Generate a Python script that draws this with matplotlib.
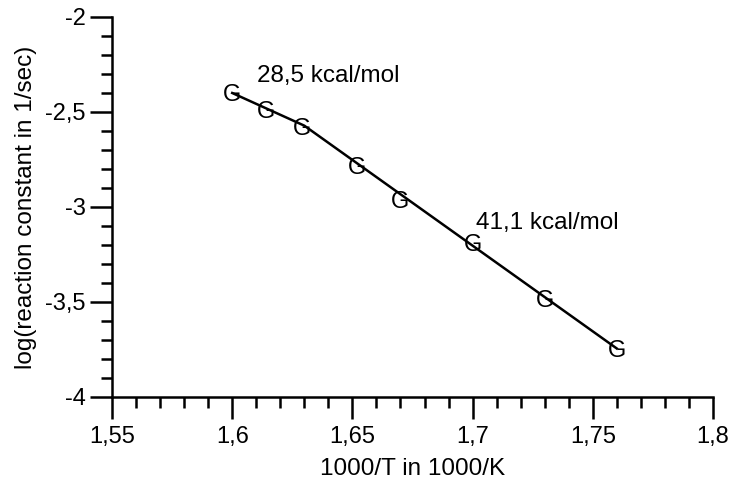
import matplotlib.pyplot as plt
from matplotlib.ticker import MultipleLocator

plt.rcParams['font.family'] = ['Liberation Sans', 'DejaVu Sans']

# measured points (1000/T, log k)
inv_T = [1.600, 1.614, 1.629, 1.652, 1.670, 1.700, 1.730, 1.760]
log_k = [-2.40, -2.49, -2.575, -2.78, -2.96, -3.19, -3.485, -3.745]

# fitted Arrhenius segments
fit_x = [1.600, 1.630, 1.760]
fit_y = [-2.40, -2.572, -3.745]

x_ticks = [1.55, 1.60, 1.65, 1.70, 1.75, 1.80]
x_labels = ["1,55", "1,6", "1,65", "1,7", "1,75", "1,8"]
y_ticks = [-4, -3.5, -3, -2.5, -2]
y_labels = ["-4", "-3,5", "-3", "-2,5", "-2"]

fig = plt.figure(figsize=(7.34, 4.84), dpi=100)
ax = fig.add_axes([0.1526, 0.1798, 0.8188, 0.7851])

ax.plot(fit_x, fit_y, color="black", linewidth=1.8)
# "G" used as point symbol, centred on the data point
for x, y in zip(inv_T, log_k):
    ax.annotate("G", (x, y), xytext=(0, -6), textcoords="offset points",
                ha="center", va="baseline", fontsize=17)

ax.text(1.6105, -2.31, "28,5 kcal/mol", fontsize=17.5, va="center")
ax.text(1.7015, -3.085, "41,1 kcal/mol", fontsize=17.5, va="center")

ax.set_xlim(1.55, 1.8)
ax.set_ylim(-4, -2)
ax.set_xticks(x_ticks)
ax.set_xticklabels(x_labels)
ax.set_yticks(y_ticks)
ax.set_yticklabels(y_labels)
ax.xaxis.set_minor_locator(MultipleLocator(0.01))
ax.yaxis.set_minor_locator(MultipleLocator(0.1))

ax.spines["top"].set_visible(False)
ax.spines["right"].set_visible(False)
ax.spines["left"].set_linewidth(1.8)
ax.spines["bottom"].set_linewidth(1.8)
ax.tick_params(which="major", direction="out", length=16, width=1.8, labelsize=17, pad=3)
ax.tick_params(axis="x", which="major", pad=5)
ax.tick_params(which="minor", direction="out", length=8, width=1.8)

ax.set_xlabel("1000/T in 1000/K", fontsize=17.5, labelpad=7)
ax.set_ylabel("log(reaction constant in 1/sec)", fontsize=17.5, labelpad=6)

plt.savefig("out.png", dpi=100)
